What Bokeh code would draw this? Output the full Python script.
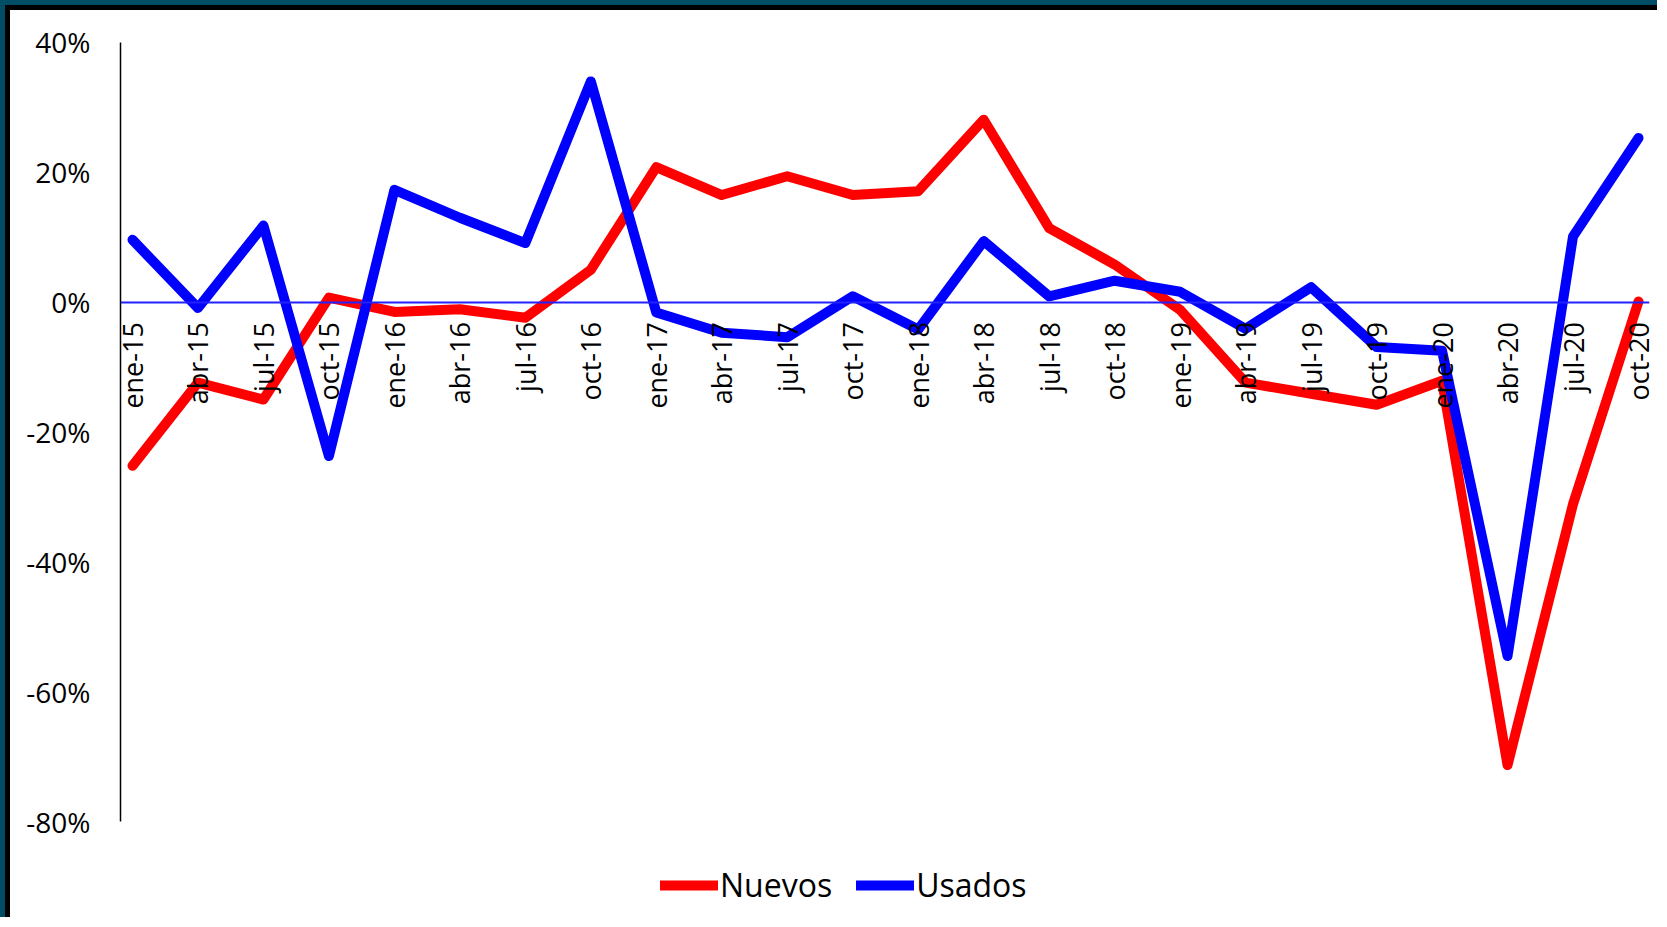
import numpy as np
from bokeh.plotting import figure
from bokeh.layouts import column
from bokeh.models import FixedTicker, NumeralTickFormatter, Range1d, Legend, LegendItem
from bokeh.embed import file_html
from bokeh.resources import INLINE

# quarterly year-on-year change
periods = ["ene-15", "abr-15", "jul-15", "oct-15",
           "ene-16", "abr-16", "jul-16", "oct-16",
           "ene-17", "abr-17", "jul-17", "oct-17",
           "ene-18", "abr-18", "jul-18", "oct-18",
           "ene-19", "abr-19", "jul-19", "oct-19",
           "ene-20", "abr-20", "jul-20", "oct-20"]

nuevos = [-0.252, -0.124, -0.150, 0.007,
          -0.015, -0.011, -0.024, 0.050,
          0.208, 0.165, 0.194, 0.165,
          0.171, 0.281, 0.114, 0.058,
          -0.012, -0.124, -0.141, -0.158,
          -0.121, -0.713, -0.311, 0.001]

usados = [0.096, -0.009, 0.118, -0.237,
          0.173, 0.130, 0.091, 0.340,
          -0.016, -0.047, -0.054, 0.009,
          -0.042, 0.094, 0.009, 0.033,
          0.016, -0.041, 0.023, -0.069,
          -0.075, -0.545, 0.101, 0.253]

y_ticks = [-0.8, -0.6, -0.4, -0.2, 0.0, 0.2, 0.4]

FONT = "Open Sans"
x = list(range(len(periods)))

p = figure(width=1652, height=912, output_backend="svg", toolbar_location=None,
           x_range=Range1d(-0.183, 23.168), y_range=Range1d(-0.9554, 0.4492),
           min_border_left=110, min_border_right=13, min_border_top=0, min_border_bottom=0,
           styles={"border-top": "5px solid #000000", "border-left": "5px solid #000000"})
p.outline_line_color = None
p.xgrid.visible = False
p.ygrid.visible = False
p.background_fill_color = "white"
p.border_fill_color = "white"

l1 = p.line(x, nuevos, line_color="#ff0000", line_width=10,
            line_join="round", line_cap="round")
l2 = p.line(x, usados, line_color="#0000ff", line_width=10,
            line_join="round", line_cap="round")

# y axis
yax = p.yaxis[0]
yax.ticker = FixedTicker(ticks=y_ticks)
yax.formatter = NumeralTickFormatter(format="0%")
yax.bounds = (-0.8, 0.4)
yax.axis_line_color = "black"
yax.axis_line_width = 1.5
yax.major_tick_line_color = None
yax.minor_tick_line_color = None
yax.major_tick_out = 0
yax.major_tick_in = 0
yax.major_label_standoff = 30
yax.major_label_text_font = FONT
yax.major_label_text_font_size = "28px"
yax.major_label_text_color = "black"

# x axis sits on the zero line
xax = p.xaxis[0]
xax.fixed_location = 0
xax.ticker = FixedTicker(ticks=x)
xax.major_label_overrides = {i: s for i, s in enumerate(periods)}
xax.major_label_orientation = np.pi / 2
xax.axis_line_color = "#2222ff"
xax.axis_line_width = 2
xax.major_tick_line_color = None
xax.minor_tick_line_color = None
xax.major_tick_out = 0
xax.major_tick_in = 0
xax.major_label_standoff = 20
xax.major_label_text_font = FONT
xax.major_label_text_font_size = "27px"
xax.major_label_text_color = "black"

legend = Legend(items=[LegendItem(label="Nuevos", renderers=[l1]),
                       LegendItem(label="Usados", renderers=[l2])],
                orientation="horizontal", location=(540, 16))
legend.border_line_color = None
legend.background_fill_alpha = 0
legend.padding = 0
legend.margin = 0
legend.spacing = 24
legend.label_standoff = 2
legend.glyph_width = 58
legend.glyph_height = 32
legend.label_text_font = FONT
legend.label_text_font_size = "32px"
legend.label_text_color = "black"
p.add_layout(legend, "center")

page = column(p, styles={"border-top": "5px solid #004d66", "border-left": "5px solid #004d66"})

open("out.html", "w").write(file_html(page, INLINE))
